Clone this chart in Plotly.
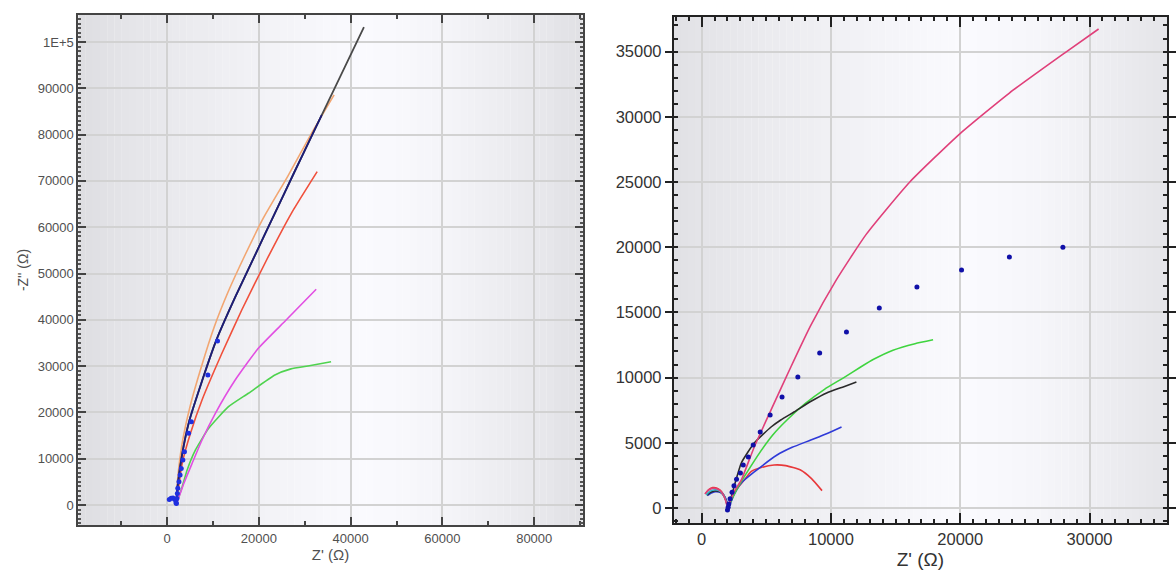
import plotly.graph_objects as go

# ---------------- left panel: full-range Nyquist curves ----------------
L_black_x = [2000, 2300, 3300, 4800, 7200, 10700, 14900, 19100, 23200, 27600, 32100, 37000, 42900]
L_black_y = [0, 4000, 11000, 18000, 25500, 35500, 45000, 53800, 62400, 71600, 80900, 91000, 103200]

L_navy_x = [2000, 2300, 3300, 4800, 7200, 10700, 14900, 19100, 23200, 27600, 32100, 33700]
L_navy_y = [0, 4000, 11000, 18000, 25500, 35500, 45000, 53800, 62400, 71600, 80900, 84200]

L_orange_x = [2000, 2300, 3300, 5000, 7500, 10300, 13300, 17000, 21000, 26300, 31600, 36400]
L_orange_y = [0, 5400, 13300, 21200, 29900, 38500, 46000, 54000, 62000, 71000, 80500, 88600]

L_red_x = [2000, 3310, 5110, 7630, 11960, 16280, 21690, 27090, 32710]
L_red_y = [0, 9000, 15490, 22680, 32770, 42120, 52920, 63000, 72000]

L_magenta_x = [2000, 3680, 5470, 7630, 10530, 14850, 19890, 26000, 32500]
L_magenta_y = [0, 4690, 9000, 14040, 19800, 27000, 33840, 40000, 46590]

L_green_x = [2000, 3310, 4390, 6200, 9080, 13400, 17730, 23500, 27000, 30700, 35740]
L_green_y = [0, 3950, 7560, 11880, 16560, 21230, 24130, 28080, 29400, 30020, 30950]

L_dots_x = [500, 900, 1300, 1700, 1950, 2050, 2150, 2250, 2350, 2600, 2850, 3100, 3450, 3800, 4700, 5300, 8900, 11000]
L_dots_y = [1200, 1450, 1500, 1200, 500, 300, 1400, 2500, 3600, 5000, 6500, 7900, 9700, 11500, 15500, 18000, 28100, 35400]

L_yticks = [0, 10000, 20000, 30000, 40000, 50000, 60000, 70000, 80000, 90000, 100000]
L_yticktext = ["0", "10000", "20000", "30000", "40000", "50000", "60000", "70000", "80000", "90000", "1E+5"]
L_xticks = [0, 20000, 40000, 60000, 80000]
L_xticktext = ["0", "20000", "40000", "60000", "80000"]

# ---------------- right panel: enlarged low-impedance region ----------------
R_pink_x = [250, 500, 800, 1100, 1400, 1650, 1850, 1980, 2050, 2200, 2550, 3070, 4070, 5370, 6900, 8440, 10360, 12740, 16100, 20030, 23800, 28090, 30700]
R_pink_y = [1080, 1350, 1500, 1500, 1350, 1050, 600, 150, 0, 500, 1300, 2150, 4680, 7520, 10810, 14000, 17400, 21000, 25000, 28750, 31820, 34900, 36730]

R_red_x = [300, 550, 850, 1150, 1450, 1700, 1880, 2000, 2100, 2600, 3300, 3820, 4600, 5600, 6500, 7650, 8500, 9310]
R_red_y = [1100, 1400, 1560, 1540, 1350, 1000, 550, 100, 200, 1300, 2150, 2790, 3100, 3300, 3250, 2910, 2250, 1330]

R_cyan_x = [350, 600, 900, 1200, 1500, 1750, 1900, 2020]
R_cyan_y = [1000, 1250, 1380, 1380, 1220, 900, 500, 80]

R_black_x = [400, 700, 1000, 1300, 1600, 1800, 1950, 2050, 2150, 2500, 3070, 4070, 5370, 6120, 7140, 8500, 9670, 11000, 11970]
R_black_y = [980, 1200, 1300, 1280, 1100, 800, 400, 0, 300, 1600, 3450, 4980, 6210, 6750, 7360, 8200, 8820, 9300, 9660]

R_green_x = [2050, 2150, 2600, 3300, 4000, 4600, 5500, 6600, 8000, 9500, 11000, 12300, 13300, 14800, 16500, 17900]
R_green_y = [0, 250, 1200, 2400, 3500, 4400, 5600, 6750, 8000, 9100, 10000, 10810, 11400, 12100, 12600, 12900]

R_blue_x = [450, 750, 1050, 1350, 1650, 1850, 2000, 2080, 2150, 2500, 3070, 4070, 5830, 7000, 8440, 9800, 10820]
R_blue_y = [950, 1150, 1250, 1220, 1050, 750, 350, 0, 150, 1000, 1920, 2760, 4060, 4650, 5210, 5750, 6210]

R_dots_x = [2000, 2050, 2100, 2200, 2350, 2500, 2700, 3000, 3220, 3610, 3990, 4530, 5300, 6220, 7440, 9130, 11200, 13740, 16650, 20100, 23800, 27940]
R_dots_y = [-150, 50, 300, 700, 1200, 1700, 2200, 2680, 3300, 3910, 4830, 5830, 7130, 8510, 10050, 11890, 13500, 15340, 16950, 18250, 19250, 20000]

R_xticks = [0, 10000, 20000, 30000]
R_yticks = [0, 5000, 10000, 15000, 20000, 25000, 30000, 35000]

fig = go.Figure()


def line(x, y, color, xa, ya, width=1.6):
    fig.add_trace(go.Scatter(x=x, y=y, mode="lines", xaxis=xa, yaxis=ya,
                             line=dict(color=color, width=width, shape="spline", smoothing=0.5),
                             showlegend=False, hoverinfo="skip"))


def dots(x, y, color, size, xa, ya):
    fig.add_trace(go.Scatter(x=x, y=y, mode="markers", xaxis=xa, yaxis=ya,
                             marker=dict(color=color, size=size), showlegend=False, hoverinfo="skip"))


# left panel traces
line(L_green_x, L_green_y, "#4fd34f", "x", "y")
line(L_magenta_x, L_magenta_y, "#e24fe2", "x", "y")
line(L_red_x, L_red_y, "#f0503c", "x", "y")
line(L_orange_x, L_orange_y, "#f2a672", "x", "y")
line(L_black_x, L_black_y, "#4a4a4a", "x", "y", 1.8)
line(L_navy_x, L_navy_y, "#1c1c78", "x", "y", 1.8)
dots(L_dots_x, L_dots_y, "#1f2fe0", 5, "x", "y")

# right panel traces
line(R_red_x, R_red_y, "#e8383a", "x2", "y2")
line(R_blue_x, R_blue_y, "#2f3ad8", "x2", "y2")
line(R_green_x, R_green_y, "#3fd43f", "x2", "y2")
line(R_black_x, R_black_y, "#2a2a2a", "x2", "y2")
line(R_cyan_x, R_cyan_y, "#2fb6c8", "x2", "y2")
line(R_pink_x, R_pink_y, "#e0407a", "x2", "y2")
dots(R_dots_x, R_dots_y, "#1010a8", 5, "x2", "y2")


# soft horizontal shading of both plot areas (dark edges, bright middle)
def shade(xref, yref, edge_l, edge_r, peak):
    n = 70
    for i in range(n):
        t = (i + 0.5) / n
        if t < peak:
            v = edge_l + (250 - edge_l) * (t / peak) ** 0.8
        else:
            v = 250 - (250 - edge_r) * ((t - peak) / (1 - peak)) ** 1.6
        c = int(round(v))
        fig.add_shape(type="rect", xref=xref, yref=yref, x0=i / n, x1=(i + 1.02) / n, y0=0, y1=1,
                      fillcolor=f"rgb({c},{c},{min(255, c + 4)})", line=dict(width=0), layer="below")


shade("x domain", "y domain", 221, 224, 0.55)
shade("x2 domain", "y2 domain", 224, 228, 0.58)

left_tick_font = dict(family="Liberation Sans, Arial, sans-serif", size=13, color="#505050")
right_tick_font = dict(family="Liberation Sans, Arial, sans-serif", size=16.5, color="#333333")
grid = "#d2d2d2"

fig.update_layout(
    width=1176, height=572,
    margin=dict(l=0, r=0, t=0, b=0),
    paper_bgcolor="white", plot_bgcolor="rgba(0,0,0,0)",
    xaxis=dict(domain=[0.0672, 0.4992], range=[-19300, 90530], anchor="y",
               tickvals=L_xticks, ticktext=L_xticktext, tickfont=left_tick_font,
               ticks="inside", ticklen=8, tickwidth=1.5, tickcolor="#444",
               minor=dict(dtick=10000, tick0=0, ticks="inside", ticklen=4, tickcolor="#444", showgrid=False),
               showline=True, linecolor="#444", linewidth=2, mirror="allticks",
               showgrid=True, gridcolor=grid, gridwidth=1.5, zeroline=False,
               title=dict(text="Z' (Ω)", font=dict(family="Liberation Sans, Arial, sans-serif", size=15, color="#505050"), standoff=4)),
    yaxis=dict(domain=[0.0822, 0.9738], range=[-4320, 105840], anchor="x",
               tickvals=L_yticks, ticktext=L_yticktext, tickfont=left_tick_font,
               ticks="inside", ticklen=8, tickwidth=1.5, tickcolor="#444",
               minor=dict(dtick=1000, tick0=0, ticks="inside", ticklen=3, tickcolor="#555", showgrid=False),
               showline=True, linecolor="#444", linewidth=2, mirror="allticks",
               showgrid=True, gridcolor=grid, gridwidth=1.5, zeroline=False,
               title=dict(text="-Z'' (Ω)", font=dict(family="Liberation Sans, Arial, sans-serif", size=14, color="#505050"), standoff=6)),
    xaxis2=dict(domain=[0.5774, 1.0], range=[-2150, 35990], anchor="y2",
                tickvals=R_xticks, tickformat="d", tickfont=right_tick_font,
                ticks="inside", ticklen=10, tickwidth=2, tickcolor="#222",
                minor=dict(dtick=1000, tick0=0, ticks="inside", ticklen=4, tickcolor="#222", showgrid=False),
                showline=True, linecolor="#222", linewidth=2, mirror="allticks",
                showgrid=True, gridcolor=grid, gridwidth=1.5, zeroline=False,
                title=dict(text="Z' (Ω)", font=dict(family="Liberation Sans, Arial, sans-serif", size=19, color="#333333"), standoff=6)),
    yaxis2=dict(domain=[0.0857, 0.9703], range=[-1150, 37650], anchor="x2",
                tickvals=R_yticks, tickformat="d", tickfont=right_tick_font,
                ticks="outside", ticklen=7, tickwidth=2, tickcolor="#222",
                minor=dict(dtick=1000, tick0=0, ticks="inside", ticklen=4, tickcolor="#222", showgrid=False),
                showline=True, linecolor="#222", linewidth=2, mirror="allticks",
                showgrid=True, gridcolor=grid, gridwidth=1.5, zeroline=False),
)

fig.write_html("out.html")
